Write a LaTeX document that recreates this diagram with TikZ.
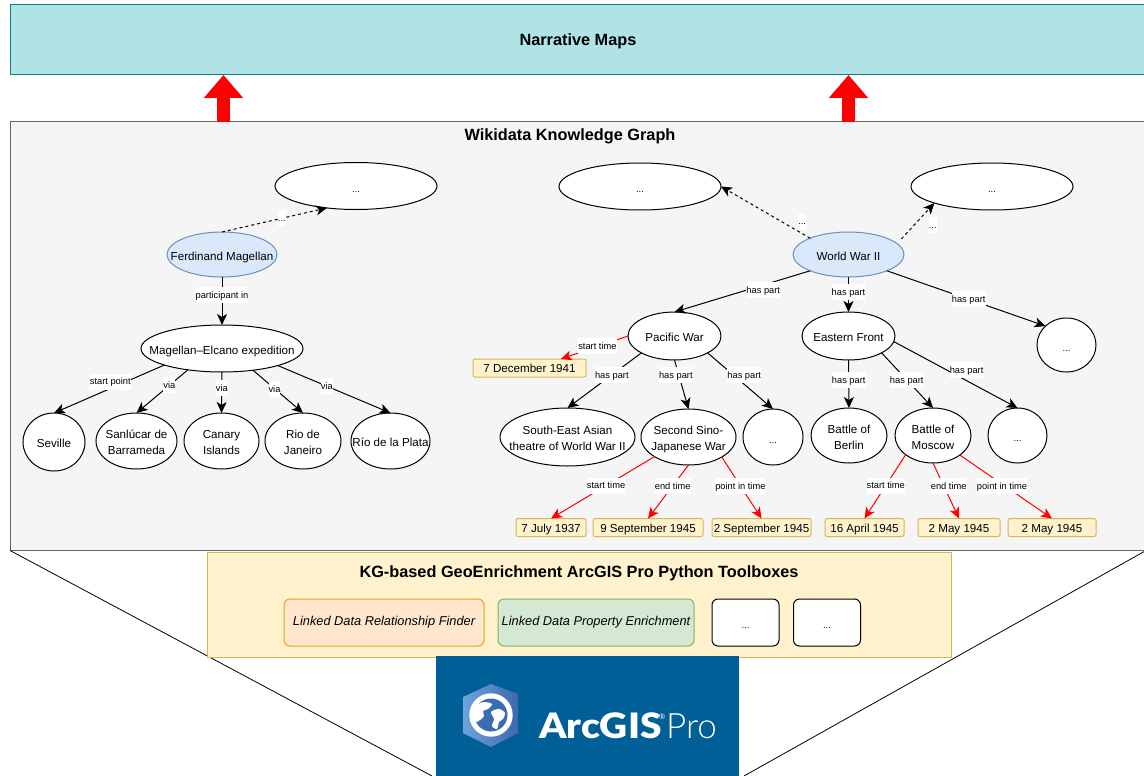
\documentclass[tikz,border=0pt]{standalone}
\usepackage{fontspec}
\usepackage{xcolor}
\usepackage{graphicx}
\setmainfont{Liberation Sans}
\newfontfamily\logobold{Lato Black}
\newfontfamily\logolight{Lato Light}
\newfontfamily\logomark{Lato}
\usetikzlibrary{arrows.meta, shapes.geometric}

\definecolor{tealfill}{HTML}{B0E3E6}
\definecolor{tealline}{HTML}{0E8088}
\definecolor{kgfill}{HTML}{F5F5F5}
\definecolor{kgline}{HTML}{666666}
\definecolor{yellowfill}{HTML}{FFF2CC}
\definecolor{yellowline}{HTML}{D6B656}
\definecolor{bluefill}{HTML}{DAE8FC}
\definecolor{blueline}{HTML}{6C8EBF}
\definecolor{orangefill}{HTML}{FFE6CC}
\definecolor{orangeline}{HTML}{E3A51B}
\definecolor{greenfill}{HTML}{D5E8D4}
\definecolor{greenline}{HTML}{82B366}
\definecolor{logoblue}{HTML}{005F97}
\definecolor{hexleft}{HTML}{6FA3DA}
\definecolor{hexright}{HTML}{3F68AE}
\definecolor{globeblue}{HTML}{3A6DB2}

\newcommand{\nodefont}{\fontsize{11.6}{16}\selectfont}
\newcommand{\edgefont}{\fontsize{9.3}{16}\selectfont}
\newcommand{\toolfont}{\fontsize{12.8}{16}\selectfont\itshape}
\newcommand{\titlefont}{\fontsize{16.3}{18}\selectfont\bfseries}
\newcommand{\nt}[1]{\makebox[0pt]{\raisebox{-5.4pt}[0pt][0pt]{\begin{tabular}{@{}c@{}}#1\end{tabular}}}}

\tikzset{
    kgnode/.style={ellipse, draw=black, fill=white, line width=1pt, inner sep=0pt, outer sep=0pt, font=\nodefont},
    dotnode/.style={kgnode, font=\edgefont},
    focusnode/.style={kgnode, draw=blueline, fill=bluefill},
    datebox/.style={rectangle, rounded corners=2pt, draw=yellowline, fill=yellowfill, line width=1pt, inner sep=0pt, outer sep=0pt, minimum height=18pt, text height=9pt, text depth=0pt, font=\nodefont},
    toolbox/.style={rectangle, rounded corners=6pt, line width=1pt, inner sep=0pt, outer sep=0pt, minimum height=47pt},
    panel/.style={rectangle, line width=1pt, inner sep=0pt, outer sep=0pt},
    paneltitle/.style={inner sep=0pt, text height=12pt, text depth=0pt, font=\titlefont},
    elabel/.style={fill=white, inner xsep=0pt, inner ysep=0pt, minimum height=16pt, text height=7.4pt, text depth=.6pt, text=black, font=\edgefont},
    link/.style={draw=black, line width=1pt, -{Stealth[length=11pt,width=10pt,inset=3pt]}},
    otherlink/.style={link, dashed},
    timelink/.style={draw=red, line width=1pt, -{Stealth[length=11pt,width=10pt,inset=3pt]}},
    bigarrow/.style={draw=red, line width=13pt, -{Triangle[length=23pt,width=38pt]}},
}

\begin{document}
\begin{tikzpicture}[x=1pt, y=-1pt]
    \useasboundingbox (0,0) rectangle (1144,776);

    % Draw the panels
    \node[panel, draw=tealline, fill=tealfill, minimum width=1136pt, minimum height=70pt, text height=12pt, text depth=0pt, font=\titlefont] (maps) at (578,40) {Narrative Maps};
    \node[panel, draw=kgline, fill=kgfill, minimum width=1136pt, minimum height=429pt] (kg) at (578,336) {};
    \node[paneltitle] (kgtitle) at (570,134) {Wikidata Knowledge Graph};

    % Red arrows up to the maps
    \draw[bigarrow] (223.5,0 |- kg.north) -- (223.5,0 |- maps.south);
    \draw[bigarrow] (848.5,0 |- kg.north) -- (848.5,0 |- maps.south);

    % The two slanted lines
    \coordinate (logol) at (432,776);
    \coordinate (logor) at (744,776);
    \draw[black, line width=.8pt] (kg.south west) -- (logol);
    \draw[black, line width=.8pt] (kg.south east) -- (logor);

    % Toolboxes
    \node[panel, draw=yellowline, fill=yellowfill, minimum width=744pt, minimum height=105pt] (tools) at (579,604.5) {};
    \node[paneltitle] (toolstitle) at (579,571) {KG-based GeoEnrichment ArcGIS Pro Python Toolboxes};
    \node[toolbox, draw=orangeline, fill=orangefill, minimum width=200pt, font=\toolfont] (finder) at (384,622.5) {Linked Data Relationship Finder};
    \node[toolbox, draw=greenline, fill=greenfill, minimum width=196pt, font=\toolfont] (enrich) at (596,622.5) {Linked Data Property Enrichment};
    \node[toolbox, draw=black, fill=white, minimum width=67pt, font=\edgefont] (toola) at (745.5,622.5) {\nt{...}};
    \node[toolbox, draw=black, fill=white, minimum width=67pt, font=\edgefont] (toolb) at (827,622.5) {\nt{...}};

    % Logo box and mark
    \node[panel, fill=logoblue, minimum width=303pt, minimum height=120pt] (logo) at (587.5,716) {};
    \shade[left color=hexleft, right color=hexright] (463,697) -- (491,684) -- (518,694) -- (518,733) -- (491,747) -- (463,733) -- cycle;
    \fill[white] (491,715) circle (21.7);
    \fill[globeblue] (491,715) circle (16.5);
    \fill[white] plot[smooth cycle] coordinates {(476,706) (484,702) (492,704) (488,709) (483,711) (484,716) (480,720) (476,722) (473,716)};
    \fill[white] plot[smooth cycle] coordinates {(491,712) (499,709) (505,713) (503,719) (499,722) (497,729) (492,726) (494,719)};
    \node[anchor=base west, inner sep=0pt, text=white, font=\fontsize{35}{35}\logobold] (logoa) at (539,738) {\scalebox{1.11}[1]{ArcGIS}};
    \node[anchor=base west, inner sep=0pt, text=white, font=\fontsize{7.5}{7.5}\logomark] (logob) at (659,719) {®};
    \node[anchor=base west, inner sep=0pt, text=white, font=\fontsize{35}{35}\logolight] (logop) at (666,738) {Pro};

    % Magellan part of the graph
    \node[focusnode, minimum width=110pt, minimum height=45pt] (fm) at (222,254.5) {\nt{Ferdinand Magellan}};
    \node[dotnode, minimum width=162pt, minimum height=47pt] (fmo) at (356,186) {\nt{...}};
    \node[kgnode, minimum width=162pt, minimum height=47pt] (me) at (222,348.5) {\nt{Magellan–Elcano expedition}};
    \node[kgnode, minimum width=62pt, minimum height=58pt] (sev) at (54,442) {\nt{Seville}};
    \node[kgnode, minimum width=81pt, minimum height=56pt] (san) at (136.5,441) {\nt{Sanlúcar de\\Barrameda}};
    \node[kgnode, minimum width=75pt, minimum height=56pt] (can) at (221.5,441) {\nt{Canary\\Islands}};
    \node[kgnode, minimum width=76pt, minimum height=56pt] (rio) at (303,441) {\nt{Rio de\\Janeiro}};
    \node[kgnode, minimum width=79pt, minimum height=56pt] (pla) at (390.5,441) {\nt{Río de la Plata}};

    \draw[otherlink] (fm.north) -- (fmo.217) node[elabel, pos=.57] {...};
    \draw[link] (fm.south) -- (me.north) node[elabel, pos=.375] {participant in};
    \draw[link] (me.196.5) -- (sev.north) node[elabel, pos=.49, yshift=7pt] {start point};
    \draw[link] (me.212.7) -- (san.north) node[elabel, pos=.36] {via};
    \draw[link] (me.south) -- (can.north) node[elabel, pos=.39] {via};
    \draw[link] (me.325.7) -- (rio.north) node[elabel, pos=.43] {via};
    \draw[link] (me.343.7) -- (pla.north) node[elabel, pos=.435] {via};

    % World War II part of the graph
    \node[focusnode, minimum width=111pt, minimum height=45pt] (ww) at (848.5,254.5) {\nt{World War II}};
    \node[dotnode, minimum width=162pt, minimum height=47pt] (wwl) at (640,186.5) {\nt{...}};
    \node[dotnode, minimum width=162pt, minimum height=47pt] (wwr) at (992,186.5) {\nt{...}};
    \node[kgnode, minimum width=93pt, minimum height=48pt] (pw) at (674.5,336) {\nt{Pacific War}};
    \node[kgnode, minimum width=93pt, minimum height=48pt] (ef) at (848.5,336) {\nt{Eastern Front}};
    \node[dotnode, minimum width=59pt, minimum height=54pt] (wwd) at (1066.5,345) {\nt{...}};
    \node[datebox, minimum width=113pt] (dpw) at (529.5,368) {7 December 1941};
    \node[kgnode, minimum width=135pt, minimum height=58pt] (sea) at (567.5,437) {\nt{South-East Asian\\theatre of World War II}};
    \node[kgnode, minimum width=95pt, minimum height=56pt] (sino) at (688.5,437) {\nt{Second Sino-\\Japanese War}};
    \node[dotnode, minimum width=60pt, minimum height=56pt] (pwd) at (773,437) {\nt{...}};
    \node[kgnode, minimum width=76pt, minimum height=55pt] (ber) at (849,435.5) {\nt{Battle of\\Berlin}};
    \node[kgnode, minimum width=76pt, minimum height=55pt] (mos) at (933,435.5) {\nt{Battle of\\Moscow}};
    \node[dotnode, minimum width=59pt, minimum height=55pt] (efd) at (1017.5,435.5) {\nt{...}};

    % Dates
    \node[datebox, minimum width=70pt] (da) at (551,527.5) {7 July 1937};
    \node[datebox, minimum width=110pt] (db) at (648,527.5) {9 September 1945};
    \node[datebox, minimum width=99pt] (dc) at (761.5,527.5) {2 September 1945};
    \node[datebox, minimum width=79pt] (dd) at (864.5,527.5) {16 April 1945};
    \node[datebox, minimum width=82pt] (de) at (959,527.5) {2 May 1945};
    \node[datebox, minimum width=88pt] (df) at (1052,527.5) {2 May 1945};

    % Connect World War II
    \draw[otherlink] (ww.157.3) -- (wwl.east) node[elabel, pos=.09, yshift=12pt] {...};
    \draw[otherlink] ([xshift=7.5pt, yshift=2.5pt]ww.16.8) -- (wwr.196.5) node[elabel, pos=.3, xshift=21.5pt, yshift=3pt] {...};
    \draw[link] (ww.203) -- (pw.north) node[elabel, pos=.346, yshift=-5pt] {has part};
    \draw[link] (ww.south) -- (ef.north) node[elabel, pos=.43] {has part};
    \draw[link] (ww.337.3) -- (wwd.138.5) node[elabel, pos=.516] {has part};

    % Connect Pacific War
    \draw[timelink] (pw.west) -- (dpw.16.4) node[elabel, pos=.456] {start time};
    \draw[link] (pw.207.6) -- (sea.north) node[elabel, pos=.4] {has part};
    \draw[link] (pw.south) -- (sino.north) node[elabel, pos=.31, xshift=-3pt] {has part};
    \draw[link] (pw.333) -- (pwd.north) node[elabel, pos=.56, yshift=9.5pt] {has part};

    % Connect Eastern Front
    \draw[link] (ef.south) -- (ber.north) node[elabel, pos=.42] {has part};
    \draw[link] (ef.333) -- (mos.north) node[elabel, pos=.49] {has part};
    \draw[link] (ef.353.9) -- (efd.north) node[elabel, pos=.5, xshift=11pt, yshift=4.5pt] {has part};

    % Time properties
    \draw[timelink] (sino.210) -- (da.north) node[elabel, pos=.468] {start time};
    \draw[timelink] (sino.south) -- (db.north) node[elabel, pos=.39] {end time};
    \draw[timelink] (sino.329) -- (dc.north) node[elabel, pos=.468] {point in time};
    \draw[timelink] (mos.215.8) -- (dd.north) node[elabel, pos=.484] {start time};
    \draw[timelink] (mos.south) -- (de.north) node[elabel, pos=.41, xshift=5pt] {end time};
    \draw[timelink] (mos.324) -- (df.north) node[elabel, pos=.484, xshift=-2.5pt] {point in time};
\end{tikzpicture}
\end{document}
